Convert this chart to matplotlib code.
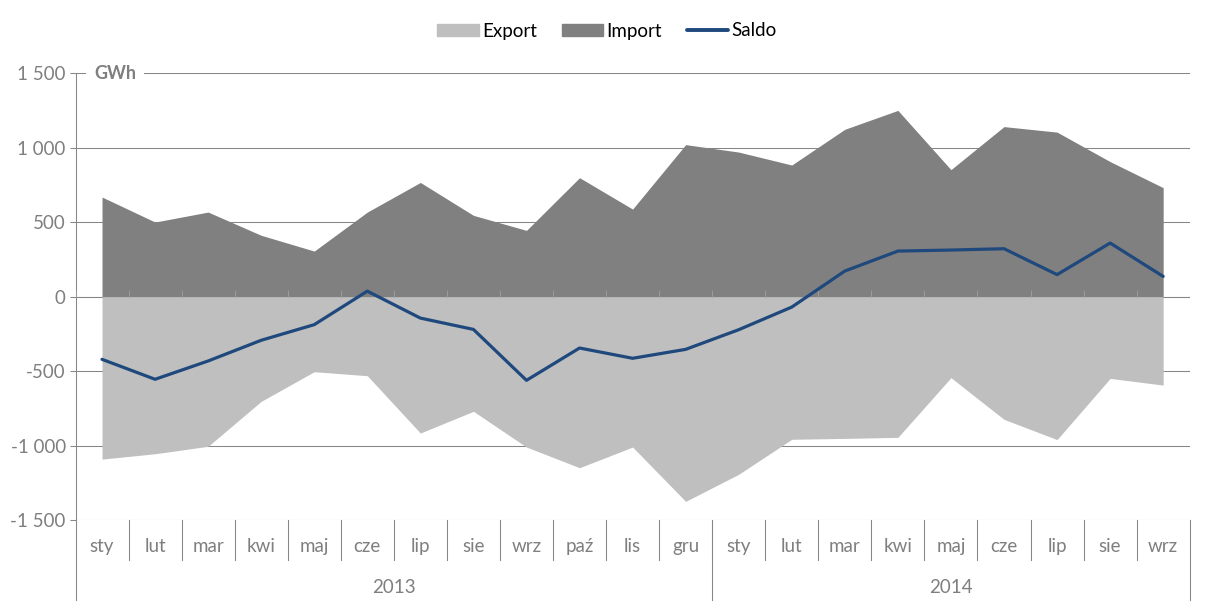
import matplotlib.pyplot as plt
from matplotlib.patches import Patch
from matplotlib.lines import Line2D
import matplotlib.transforms as mtransforms

plt.rcParams['font.family'] = ['Lato', 'DejaVu Sans']

months = ['sty', 'lut', 'mar', 'kwi', 'maj', 'cze', 'lip', 'sie', 'wrz', 'paź', 'lis', 'gru',
          'sty', 'lut', 'mar', 'kwi', 'maj', 'cze', 'lip', 'sie', 'wrz']
years = ['2013', '2014']
year_len = [12, 9]

imp = [669, 501, 568, 412, 306, 568, 767, 546, 445, 799, 588, 1021,
       971, 884, 1124, 1251, 853, 1142, 1105, 907, 732]
exp = [-1091, -1055, -1005, -703, -504, -531, -916, -770, -1010, -1149, -1010, -1375,
       -1193, -958, -952, -945, -544, -824, -960, -549, -594]
saldo = [-421, -555, -432, -293, -188, 37, -144, -220, -562, -345, -414, -354,
         -222, -70, 172, 306, 313, 322, 148, 360, 136]

yticks = [-1500, -1000, -500, 0, 500, 1000, 1500]
ytick_labels = ['-1 500', '-1 000', '-500', '0', '500', '1 000', '1 500']

grid_c = '#868686'
text_c = '#7f7f7f'

W, H = 1207, 611
fig = plt.figure(figsize=(W / 100, H / 100), dpi=100)
ax = fig.add_axes([75.5 / W, 1 - 520 / H, 1114.2 / W, 446.7 / H])

x = list(range(len(months)))
ax.fill_between(x, 0, imp, color='#808080', linewidth=0, zorder=2)
ax.fill_between(x, exp, 0, color='#bfbfbf', linewidth=0, zorder=2)
ax.plot(x, saldo, color='#1f497d', lw=2.3, zorder=4, solid_capstyle='round')

ax.set_xlim(-0.5, len(months) - 0.5)
ax.set_ylim(-1500, 1500)
ax.set_yticks(yticks)
ax.set_yticklabels(ytick_labels)
ax.tick_params(axis='y', colors=grid_c, labelcolor=text_c, labelsize=13.5,
               length=4, width=0.75, pad=3)
ax.set_xticks([])
ax.yaxis.grid(True, color=grid_c, lw=0.75)
ax.set_axisbelow(True)
for s in ['top', 'right', 'bottom']:
    ax.spines[s].set_visible(False)
ax.spines['left'].set_color(grid_c)
ax.spines['left'].set_linewidth(0.75)

# category axis line at zero with small ticks
ax.axhline(0, color=grid_c, lw=0.75, zorder=1)
bounds = [i - 0.5 for i in range(len(months) + 1)]
ax.vlines(bounds, 0, 42, color='#9a9a9a', lw=0.75, zorder=3)

# multi-level category labels below the plot
trans = mtransforms.blended_transform_factory(ax.transData, ax.transAxes)
month_bottom = -0.0895
year_bottom = -0.179
for i, m in enumerate(months):
    ax.text(i, -0.06, m, transform=trans, ha='center', va='center',
            fontsize=13.5, color=text_c)
for b in bounds[1:-1]:
    ax.plot([b, b], [0, month_bottom], transform=trans, color=grid_c, lw=0.75, clip_on=False)
start = -0.5
for yr, n in zip(years, year_len):
    end = start + n
    ax.text((start + end) / 2, -0.15, yr, transform=trans, ha='center', va='center',
            fontsize=13.5, color=text_c)
    ax.plot([end, end], [0, year_bottom], transform=trans, color=grid_c, lw=0.75, clip_on=False)
    start = end
ax.plot([-0.5, -0.5], [0, year_bottom], transform=trans, color=grid_c, lw=0.75, clip_on=False)

# unit label sitting on the top gridline
trans_y = mtransforms.blended_transform_factory(ax.transAxes, ax.transData)
ax.text(0.0166, 1500, 'GWh', transform=trans_y, ha='left', va='center', fontsize=13,
        fontweight='bold', color=text_c, zorder=5,
        bbox=dict(facecolor='white', edgecolor='none', pad=6))

handles = [Patch(color='#bfbfbf'), Patch(color='#808080'),
           Line2D([], [], color='#1f497d', lw=2.8, solid_capstyle='round')]
fig.legend(handles, ['Export', 'Import', 'Saldo'], loc='center', bbox_to_anchor=(0.503, 1 - 31 / H),
           ncol=3, frameon=False, fontsize=13.5, handlelength=2.2, handleheight=0.65,
           handletextpad=0.2, columnspacing=1.3)

fig.savefig('out.png', dpi=100)
